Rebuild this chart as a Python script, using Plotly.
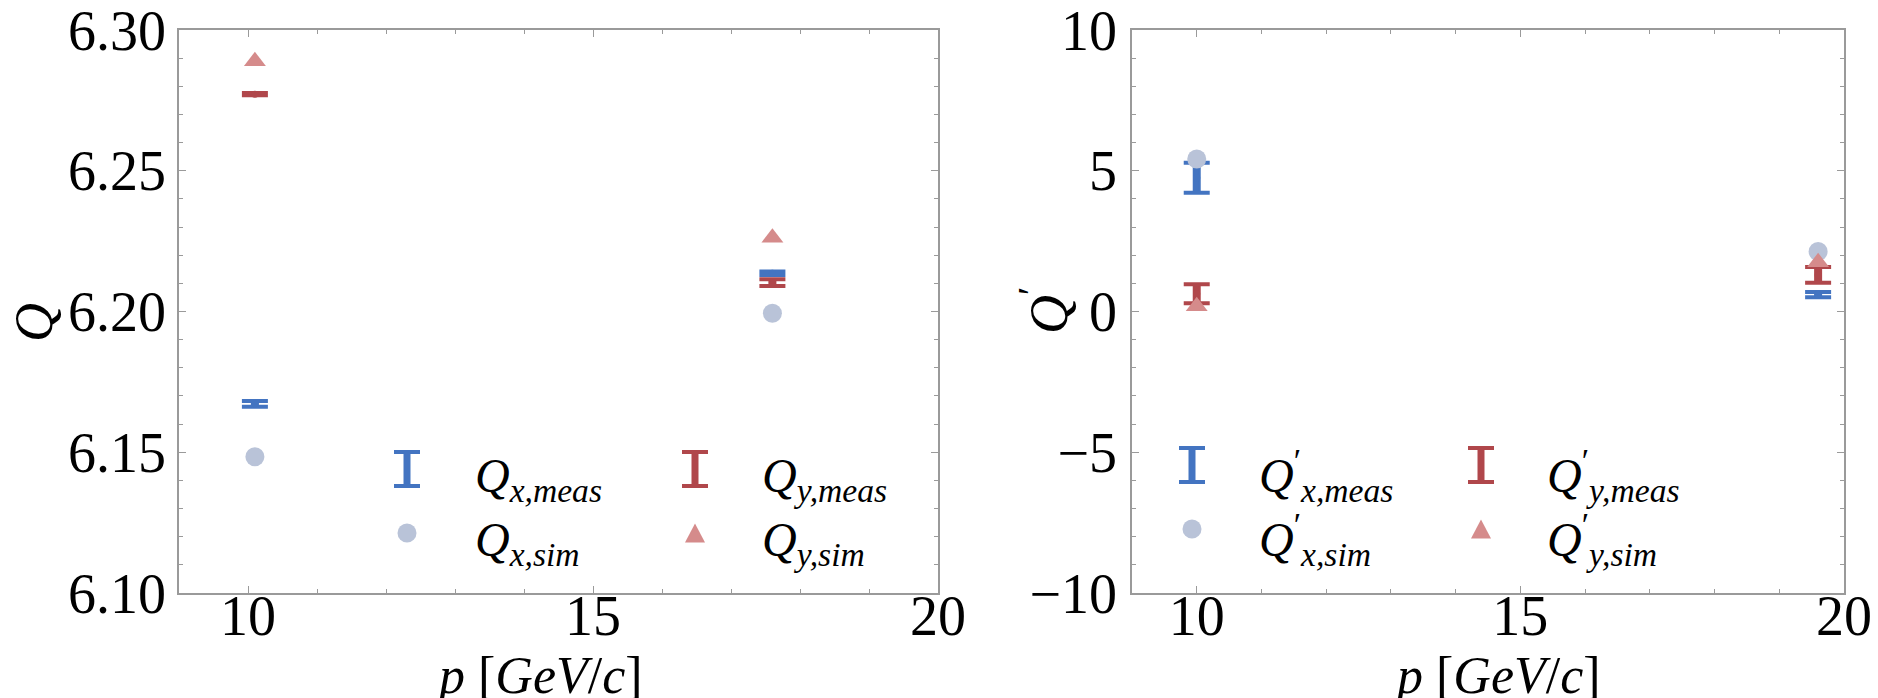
import plotly.graph_objects as go

# ---- data -------------------------------------------------------------
# tunes vs momentum
p_tune = [10.1, 17.6]
qx_meas = [6.1672, 6.2136]
qx_meas_err = [0.0010, 0.0006]
qy_meas = [6.2772, 6.2103]
qy_meas_err = [0.0004, 0.0012]
qx_sim = [6.1484, 6.1994]
qy_sim = [6.2889, 6.2262]

# chromaticities vs momentum
p_chrom = [10.0, 19.6]
cx_meas = [4.75, 0.60]
cx_meas_err = [0.53, 0.09]
cy_meas = [0.63, 1.30]
cy_meas_err = [0.34, 0.28]
cx_sim = [5.42, 2.13]
cy_sim = [0.19, 1.75]

x_ticks = [10, 15, 20]

# ---- style ------------------------------------------------------------
W, H = 1878, 698
BLUE = "#4374C1"
RED = "#B0474B"
SIM_C = "#B9C3D8"
SIM_T = "#D58B8B"
AXC = "#9A9A9A"
SERIF = "Liberation Serif"


def px(x):
    return x / W


def py(y):
    return 1 - y / H


fig = go.Figure()


def add_meas(x, y, err, color, xa, ya):
    # thick stem
    fig.add_trace(go.Scatter(
        x=x, y=y, mode="markers", xaxis=xa, yaxis=ya, showlegend=False,
        marker=dict(size=1, color=color),
        error_y=dict(type="data", array=err, color=color, thickness=8, width=0),
    ))
    # caps and centre dot
    fig.add_trace(go.Scatter(
        x=x, y=y, mode="markers", xaxis=xa, yaxis=ya, showlegend=False,
        marker=dict(size=7, color=color),
        error_y=dict(type="data", array=err, color=color, thickness=4, width=13),
    ))


def add_sim(x, y, color, symbol, size, xa, ya):
    fig.add_trace(go.Scatter(
        x=x, y=y, mode="markers", xaxis=xa, yaxis=ya, showlegend=False,
        marker=dict(size=size, color=color, symbol=symbol, line=dict(width=0)),
    ))


add_meas(p_tune, qx_meas, qx_meas_err, BLUE, "x", "y")
add_meas(p_tune, qy_meas, qy_meas_err, RED, "x", "y")
add_sim(p_tune, qx_sim, SIM_C, "circle", 19, "x", "y")
add_sim(p_tune, qy_sim, SIM_T, "triangle-up", 19, "x", "y")

add_meas(p_chrom, cx_meas, cx_meas_err, BLUE, "x2", "y2")
add_meas(p_chrom, cy_meas, cy_meas_err, RED, "x2", "y2")
add_sim(p_chrom, cx_sim, SIM_C, "circle", 19, "x2", "y2")
add_sim(p_chrom, cy_sim, SIM_T, "triangle-up", 19, "x2", "y2")

axis_common = dict(
    showline=True, linecolor=AXC, linewidth=1.5, mirror="ticks",
    ticks="inside", ticklen=7, tickwidth=1.2, tickcolor=AXC,
    showgrid=False, zeroline=False, automargin=False,
    ticklabeloverflow="allow",
    tickfont=dict(family=SERIF, size=56, color="black"),
    minor=dict(ticks="inside", ticklen=4, tickwidth=1, tickcolor=AXC, showgrid=False),
)

y_dom = [py(593), py(30)]
left_dom = [px(179), px(938)]
right_dom = [px(1132), px(1844)]

fig.update_layout(
    width=W, height=H,
    margin=dict(l=0, r=0, t=0, b=0),
    paper_bgcolor="white", plot_bgcolor="white",
    showlegend=False,
    xaxis=dict(axis_common, domain=left_dom, anchor="y", range=[9, 20],
               tickvals=x_ticks, ticklabelstandoff=-27,
               minor=dict(axis_common["minor"], dtick=1)),
    yaxis=dict(axis_common, domain=y_dom, anchor="x", range=[6.10, 6.30],
               tick0=6.10, dtick=0.05, tickformat=".2f", ticklabelstandoff=0,
               minor=dict(axis_common["minor"], dtick=0.01)),
    xaxis2=dict(axis_common, domain=right_dom, anchor="y2", range=[9, 20],
                tickvals=x_ticks, ticklabelstandoff=-27,
                minor=dict(axis_common["minor"], dtick=1)),
    yaxis2=dict(axis_common, domain=y_dom, anchor="x2", range=[-10, 10],
                tick0=-10, dtick=5, ticklabelstandoff=2,
                minor=dict(axis_common["minor"], dtick=1)),
)

# ---- axis titles ------------------------------------------------------
title_font = dict(family=SERIF, size=52, color="black")
xtitle = "<i>p</i> [<i>GeV</i>/<i>c</i>]"
annotations = [
    dict(text=xtitle, x=px(539), y=py(675), xref="paper", yref="paper",
         xanchor="center", yanchor="middle", showarrow=False, font=title_font),
    dict(text=xtitle, x=px(1497), y=py(675), xref="paper", yref="paper",
         xanchor="center", yanchor="middle", showarrow=False, font=title_font),
    dict(text="<i>Q</i>", x=px(34), y=py(323), xref="paper", yref="paper",
         xanchor="center", yanchor="middle", textangle=-90, showarrow=False,
         font=dict(title_font, size=54)),
    dict(text="<i>Q</i><sup>′</sup>", x=px(1044), y=py(311), xref="paper",
         yref="paper", xanchor="center", yanchor="middle", textangle=-90,
         showarrow=False, font=dict(title_font, size=54)),
]

# ---- hand-drawn legends ----------------------------------------------
shapes = []
leg_font = dict(family=SERIF, size=48, color="black")


def leg_bar(cx, cy, color):
    h, cap = 17, 13
    shapes.append(dict(type="line", xref="paper", yref="paper",
                       x0=px(cx), x1=px(cx), y0=py(cy - h), y1=py(cy + h),
                       line=dict(color=color, width=7)))
    for dy in (-h, h):
        shapes.append(dict(type="line", xref="paper", yref="paper",
                           x0=px(cx - cap), x1=px(cx + cap),
                           y0=py(cy + dy), y1=py(cy + dy),
                           line=dict(color=color, width=4)))


def leg_circle(cx, cy, color):
    r = 9.5
    shapes.append(dict(type="circle", xref="paper", yref="paper",
                       x0=px(cx - r), x1=px(cx + r), y0=py(cy + r), y1=py(cy - r),
                       fillcolor=color, line=dict(width=0)))


def leg_triangle(cx, cy, color):
    hw, hh = 10, 9.5
    path = "M {},{} L {},{} L {},{} Z".format(
        px(cx - hw), py(cy + hh), px(cx + hw), py(cy + hh), px(cx), py(cy - hh))
    shapes.append(dict(type="path", xref="paper", yref="paper", path=path,
                       fillcolor=color, line=dict(width=0)))


def leg_text(x, y, text):
    annotations.append(dict(text=text, x=px(x), y=py(y), xref="paper",
                            yref="paper", xanchor="left", yanchor="middle",
                            showarrow=False, font=leg_font))


def legend(ix1, ix2, tx1, tx2, r1, r2, labels):
    leg_bar(ix1, r1, BLUE)
    leg_circle(ix1, r2, SIM_C)
    leg_bar(ix2, r1, RED)
    leg_triangle(ix2, r2, SIM_T)
    leg_text(tx1, r1 + 10, labels[0])
    leg_text(tx1, r2 + 10, labels[1])
    leg_text(tx2, r1 + 10, labels[2])
    leg_text(tx2, r2 + 10, labels[3])


legend(407, 695, 473, 760, 469, 533, [
    "<i>Q</i><sub><i>x,meas</i></sub>", "<i>Q</i><sub><i>x,sim</i></sub>",
    "<i>Q</i><sub><i>y,meas</i></sub>", "<i>Q</i><sub><i>y,sim</i></sub>",
])
legend(1192, 1481, 1257, 1545, 465, 529, [
    "<i>Q</i><sup>′</sup><sub><i>x,meas</i></sub>",
    "<i>Q</i><sup>′</sup><sub><i>x,sim</i></sub>",
    "<i>Q</i><sup>′</sup><sub><i>y,meas</i></sub>",
    "<i>Q</i><sup>′</sup><sub><i>y,sim</i></sub>",
])

fig.update_layout(annotations=annotations, shapes=shapes)

fig.write_html("out.html")
